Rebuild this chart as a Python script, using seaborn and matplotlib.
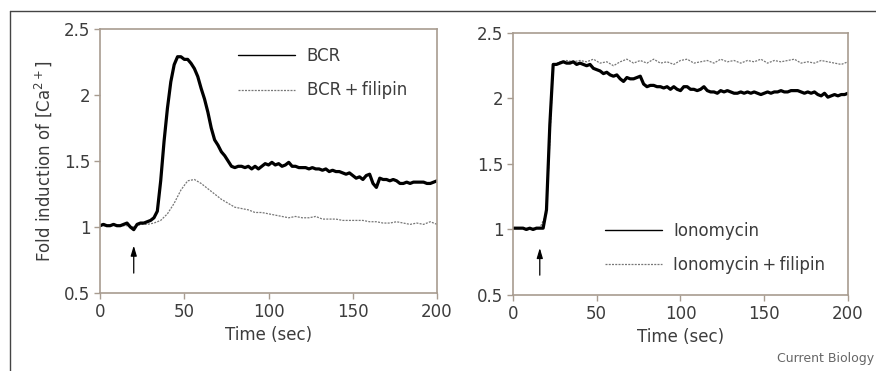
import numpy as np
import matplotlib
matplotlib.use('Agg')
import matplotlib.pyplot as plt
import seaborn as sns
from matplotlib.lines import Line2D

# Data
# left panel: BCR stimulation (2 s steps) and BCR + filipin (4 s steps)
bcr_time = list(range(0, 201, 2))
bcr = [1.01, 1.02, 1.01, 1.01, 1.02, 1.01, 1.01, 1.02, 1.03, 1.00,
       0.98, 1.02, 1.03, 1.03, 1.04, 1.05, 1.07, 1.12, 1.35, 1.65,
       1.90, 2.10, 2.23, 2.29, 2.29, 2.27, 2.27, 2.24, 2.20, 2.14,
       2.05, 1.97, 1.87, 1.75, 1.66, 1.62, 1.57, 1.54, 1.50, 1.46,
       1.45, 1.46, 1.46, 1.45, 1.46, 1.44, 1.46, 1.44, 1.46, 1.48,
       1.47, 1.49, 1.47, 1.48, 1.46, 1.47, 1.49, 1.46, 1.46, 1.45,
       1.45, 1.45, 1.44, 1.45, 1.44, 1.44, 1.43, 1.44, 1.42, 1.43,
       1.42, 1.42, 1.41, 1.40, 1.41, 1.39, 1.37, 1.38, 1.36, 1.39,
       1.40, 1.33, 1.30, 1.37, 1.36, 1.36, 1.35, 1.36, 1.35, 1.33,
       1.33, 1.34, 1.33, 1.34, 1.34, 1.34, 1.34, 1.33, 1.33, 1.34,
       1.35]
bcr_fil_time = list(range(0, 201, 4))
bcr_fil = [1.01, 1.01, 1.02, 1.01, 1.01, 1.00, 1.02, 1.02, 1.03, 1.05,
           1.10, 1.18, 1.28, 1.35, 1.36, 1.33, 1.29, 1.25, 1.21, 1.18,
           1.15, 1.14, 1.13, 1.11, 1.11, 1.10, 1.09, 1.08, 1.07, 1.08,
           1.07, 1.07, 1.08, 1.06, 1.06, 1.06, 1.05, 1.05, 1.05, 1.05,
           1.04, 1.04, 1.03, 1.03, 1.04, 1.03, 1.02, 1.03, 1.02, 1.04,
           1.02]

# right panel: ionomycin (2 s steps) and ionomycin + filipin (4 s steps)
iono_time = list(range(0, 201, 2))
iono = [1.01, 1.01, 1.01, 1.01, 1.00, 1.01, 1.00, 1.01, 1.01, 1.01,
        1.15, 1.80, 2.26, 2.26, 2.27, 2.28, 2.27, 2.27, 2.28, 2.26,
        2.27, 2.26, 2.25, 2.26, 2.23, 2.22, 2.21, 2.19, 2.20, 2.18,
        2.17, 2.18, 2.15, 2.13, 2.16, 2.15, 2.15, 2.16, 2.17, 2.11,
        2.09, 2.10, 2.10, 2.09, 2.09, 2.08, 2.09, 2.07, 2.09, 2.07,
        2.06, 2.09, 2.09, 2.07, 2.07, 2.06, 2.07, 2.09, 2.06, 2.05,
        2.05, 2.04, 2.06, 2.05, 2.06, 2.05, 2.04, 2.04, 2.05, 2.04,
        2.05, 2.04, 2.05, 2.04, 2.03, 2.04, 2.05, 2.04, 2.05, 2.05,
        2.06, 2.05, 2.05, 2.06, 2.06, 2.06, 2.05, 2.04, 2.05, 2.04,
        2.05, 2.03, 2.02, 2.04, 2.01, 2.02, 2.03, 2.02, 2.03, 2.03,
        2.04]
iono_fil_time = list(range(0, 201, 4))
iono_fil = [1.01, 1.01, 1.01, 1.01, 1.01, 1.12, 2.25, 2.28, 2.29, 2.28,
            2.29, 2.28, 2.30, 2.27, 2.28, 2.25, 2.28, 2.30, 2.27, 2.29,
            2.27, 2.30, 2.27, 2.28, 2.26, 2.29, 2.30, 2.27, 2.28, 2.29,
            2.27, 2.30, 2.28, 2.29, 2.27, 2.29, 2.28, 2.30, 2.27, 2.29,
            2.28, 2.29, 2.30, 2.27, 2.28, 2.27, 2.29, 2.28, 2.27, 2.26,
            2.28]

# time of stimulus (arrows)
stim_bcr = 20
stim_iono = 16

yticks = [0.5, 1, 1.5, 2, 2.5]
xticks = [0, 50, 100, 150, 200]

sns.set_theme(style='white')
plt.rcParams['font.family'] = ['DejaVu Sans']
plt.rcParams['mathtext.fontset'] = 'dejavusans'

spine_col = '#a89c90'
text_col = '#3c3c3c'
dot_col = '#777777'
dot_style = (0, (1.6, 1.0))

fig = plt.figure(figsize=(8.76, 3.71), dpi=100)
ax1 = fig.add_axes([0.1142, 0.2102, 0.3847, 0.7116])
ax2 = fig.add_axes([0.5856, 0.2049, 0.3824, 0.7062])

panels = [
    (ax1, bcr_time, bcr, bcr_fil_time, bcr_fil, 'BCR', 'BCR\u2009+\u2009filipin', stim_bcr, (0.41, 0.933)),
    (ax2, iono_time, iono, iono_fil_time, iono_fil, 'Ionomycin', 'Ionomycin\u2009+\u2009filipin', stim_iono, (0.275, 0.28)),
]

for ax, t1, y1, t2, y2, lab1, lab2, stim, legpos in panels:
    sns.lineplot(x=t2, y=y2, ax=ax, color=dot_col, lw=0.9, linestyle=dot_style)
    sns.lineplot(x=t1, y=y1, ax=ax, color='black', lw=2.3)
    ax.set_xlim(0, 200)
    ax.set_ylim(0.5, 2.5)
    ax.set_xticks(xticks)
    ax.set_yticks(yticks)
    ax.set_xticklabels([str(v) for v in xticks])
    ax.set_yticklabels(['0.5', '1', '1.5', '2', '2.5'])
    ax.tick_params(axis='both', direction='out', length=4, width=1, color=spine_col,
                   labelsize=12, labelcolor=text_col, pad=3, bottom=True, left=True)
    for s in ax.spines.values():
        s.set_color(spine_col)
        s.set_linewidth(1.2)
    ax.set_xlabel('Time (sec)', fontsize=12, color=text_col, labelpad=4)
    ax.set_ylabel('')
    # stimulus arrow
    ax.annotate('', xy=(stim, 0.88), xytext=(stim, 0.63),
                arrowprops=dict(arrowstyle='-|>,head_length=0.5,head_width=0.15', lw=0.9, color='black'))
    handles = [Line2D([], [], color='black', lw=1.0),
               Line2D([], [], color=dot_col, lw=0.9, linestyle=dot_style)]
    leg = ax.legend(handles, [lab1, lab2], loc='upper left', bbox_to_anchor=legpos,
                    frameon=False, fontsize=12, handlelength=3.4, handletextpad=0.7,
                    labelspacing=1.0, borderpad=0, borderaxespad=0)
    for txt in leg.get_texts():
        txt.set_color(text_col)

ax1.set_ylabel('Fold induction of [Ca$^{2+}$]', fontsize=12, color=text_col, labelpad=7)

# figure frame and journal credit
fig.add_artist(Line2D([9.5 / 876, 1], [1 - 10.7 / 371, 1 - 10.7 / 371], color='#444444', lw=1.0))
fig.add_artist(Line2D([9.5 / 876, 9.5 / 876], [0, 1 - 10.7 / 371], color='#444444', lw=1.0))
fig.text(0.998, 0.035, 'Current Biology', ha='right', va='center', fontsize=9, color='#666666')

fig.savefig('out.png', dpi=100)
